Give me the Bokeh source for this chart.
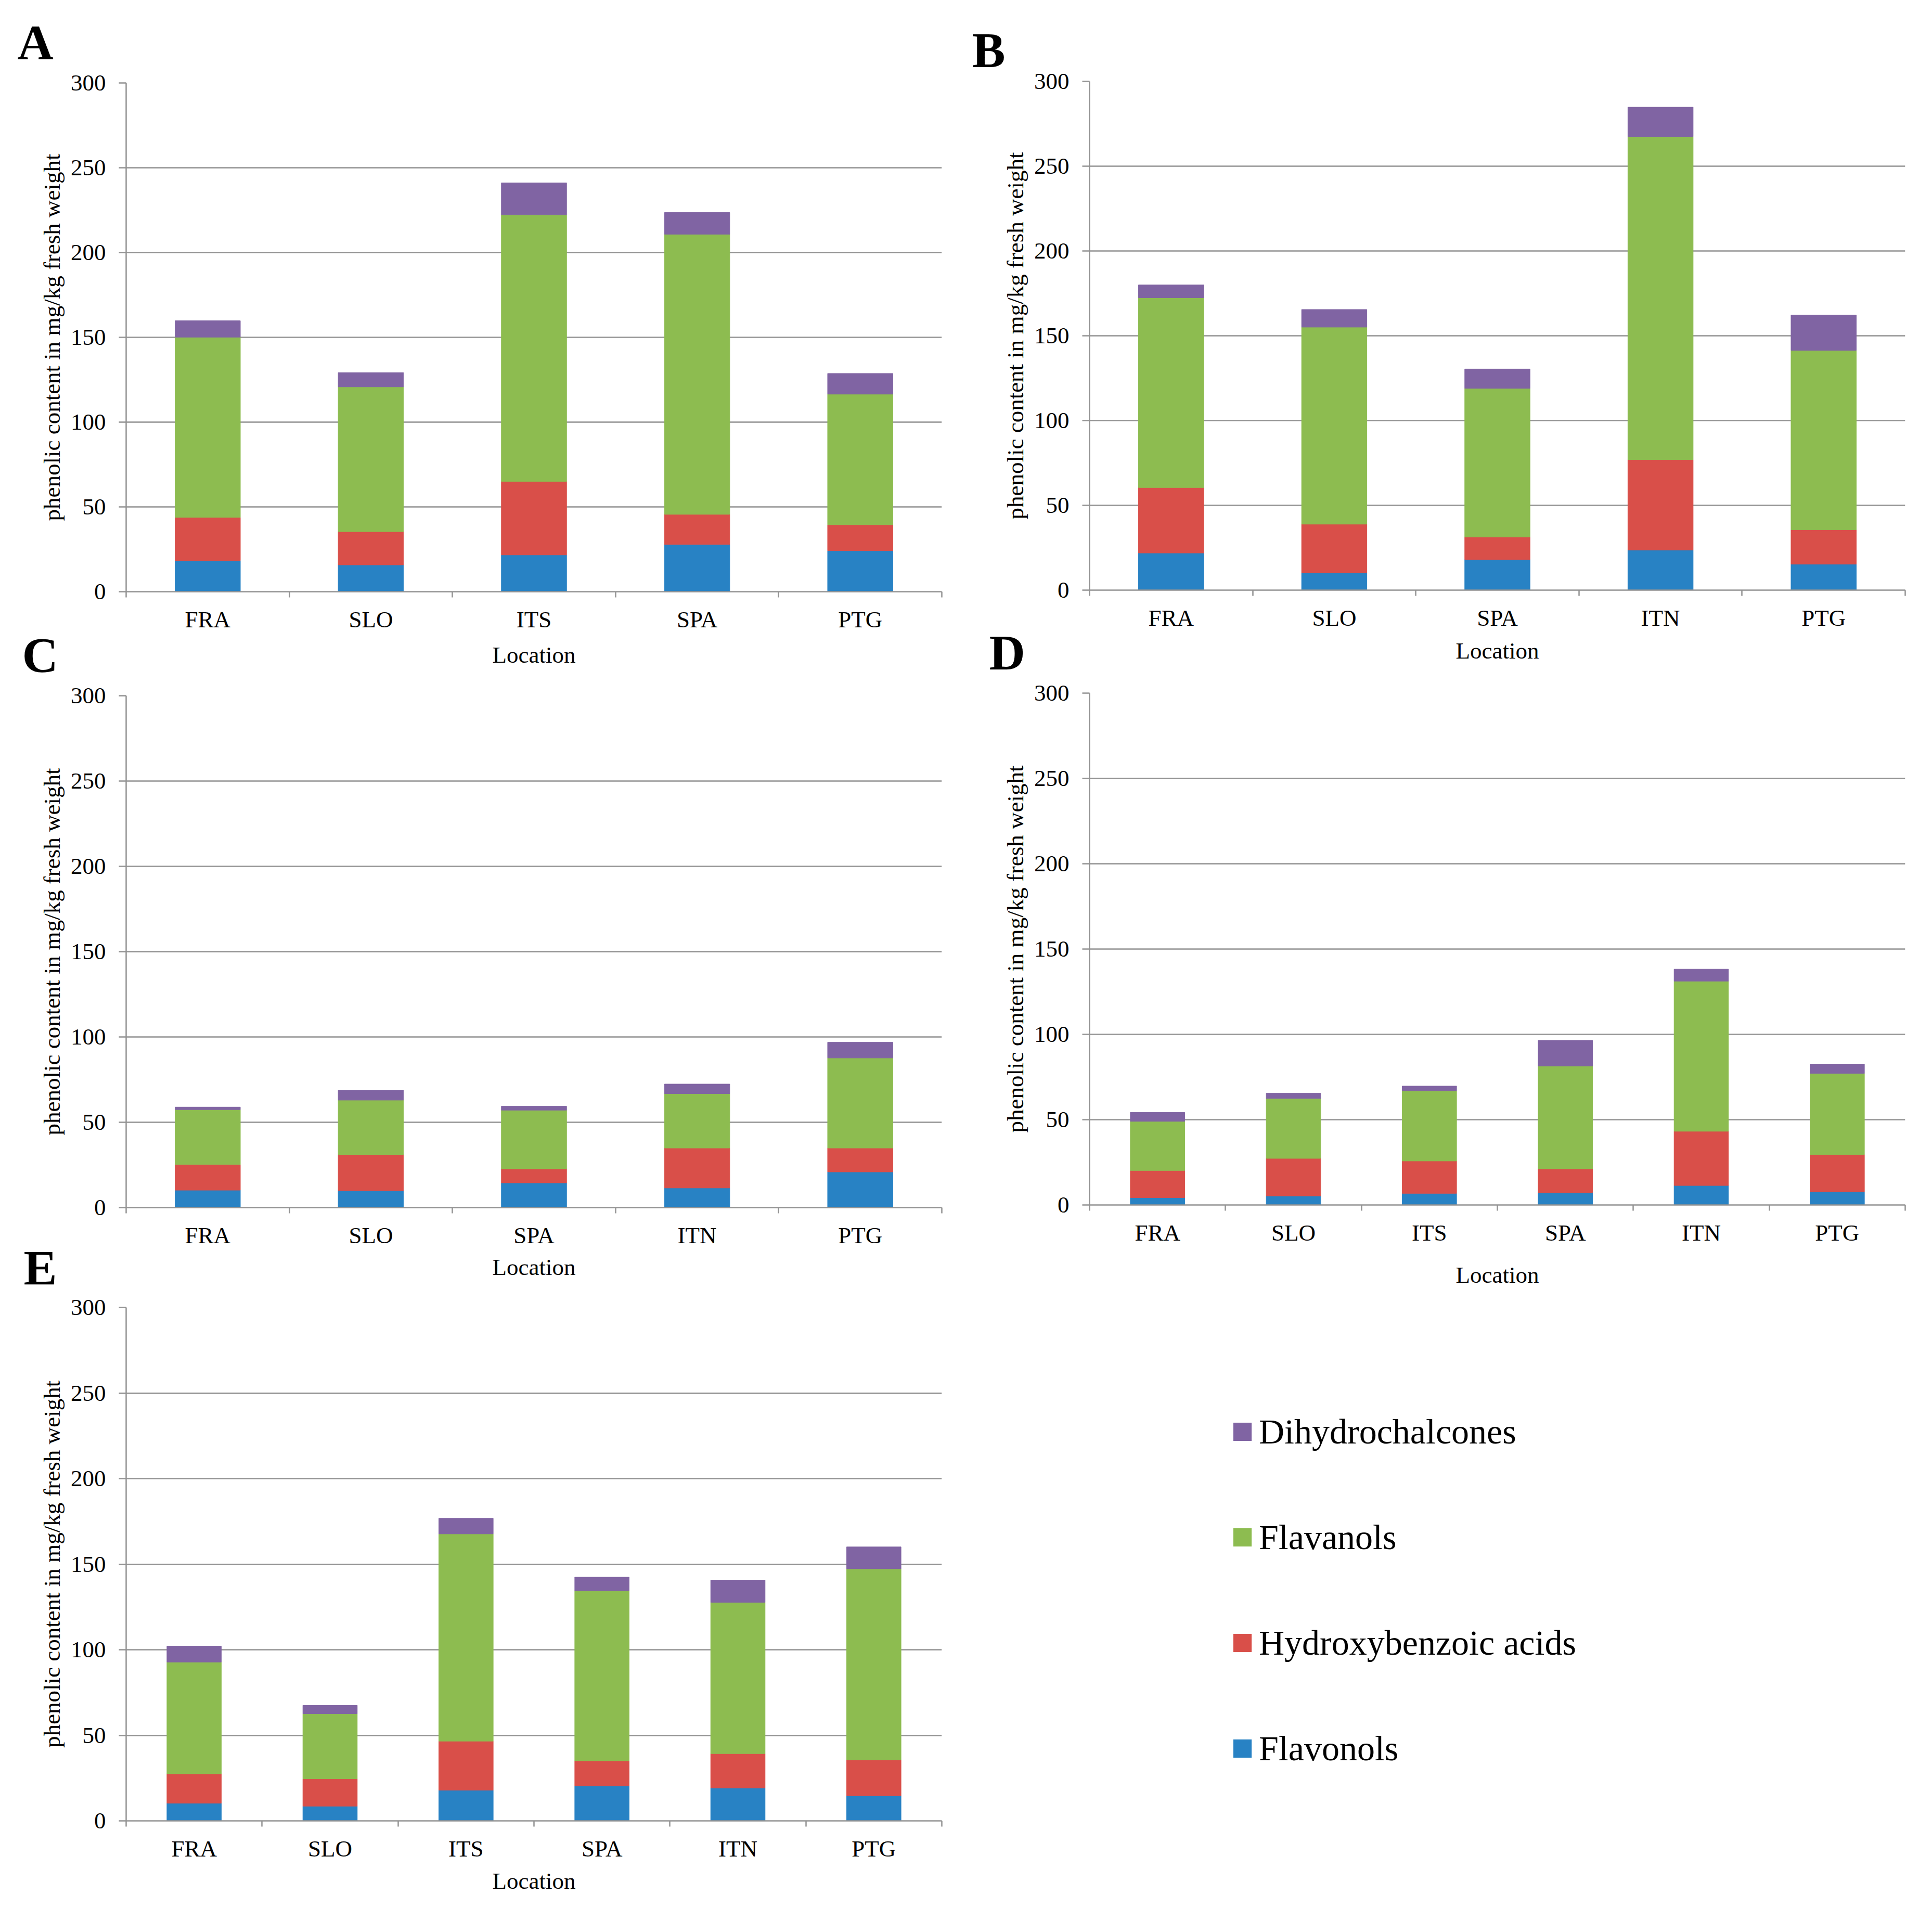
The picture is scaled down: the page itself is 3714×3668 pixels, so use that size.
from bokeh.plotting import figure
from bokeh.models import (Range1d, FixedTicker, LinearAxis, Legend, LegendItem,
                          ColumnDataSource)
from bokeh.layouts import column, row
from bokeh.embed import file_html
from bokeh.resources import INLINE

SERIES = ["Flavonols", "Hydroxybenzoic acids", "Flavanols", "Dihydrochalcones"]
COLORS = ["#2882C4", "#D94F49", "#8DBC50", "#8064A3"]
Y_TICKS = [0, 50, 100, 150, 200, 250, 300]
Y_LABEL = "phenolic content in mg/kg fresh weight"
X_LABEL = "Location"

# Panel A
locs_A = ["FRA", "SLO", "ITS", "SPA", "PTG"]
flavonols_A = [18.4, 15.8, 21.7, 27.8, 24.2]
hydroxy_A = [25.4, 19.6, 43.3, 17.8, 15.3]
flavanols_A = [106.3, 85.4, 157.3, 165.2, 77.0]
dihydro_A = [9.7, 8.4, 18.8, 12.8, 12.2]

# Panel B
locs_B = ["FRA", "SLO", "SPA", "ITN", "PTG"]
flavonols_B = [21.9, 10.2, 18.1, 23.6, 15.3]
hydroxy_B = [38.6, 28.7, 13.2, 53.4, 20.3]
flavanols_B = [111.9, 116.2, 87.7, 190.5, 105.8]
dihydro_B = [7.6, 10.4, 11.4, 17.3, 20.8]

# Panel C
locs_C = ["FRA", "SLO", "SPA", "ITN", "PTG"]
flavonols_C = [10.2, 9.9, 14.5, 11.5, 20.9]
hydroxy_C = [15.0, 21.2, 8.2, 23.4, 14.0]
flavanols_C = [32.2, 31.9, 34.4, 31.9, 52.8]
dihydro_C = [1.5, 5.8, 2.3, 5.6, 9.2]

# Panel D
locs_D = ["FRA", "SLO", "ITS", "SPA", "ITN", "PTG"]
flavonols_D = [4.3, 5.3, 6.8, 7.3, 11.4, 7.8]
hydroxy_D = [15.9, 22.0, 19.0, 13.9, 31.8, 21.8]
flavanols_D = [28.8, 35.1, 41.2, 60.2, 88.0, 47.5]
dihydro_D = [5.3, 3.1, 2.7, 15.1, 7.0, 5.5]

# Panel E
locs_E = ["FRA", "SLO", "ITS", "SPA", "ITN", "PTG"]
flavonols_E = [10.3, 8.6, 17.9, 20.4, 19.2, 14.7]
hydroxy_E = [17.2, 16.0, 28.7, 14.7, 20.1, 20.9]
flavanols_E = [65.3, 38.0, 121.1, 99.4, 88.4, 111.7]
dihydro_E = [9.3, 4.9, 9.1, 7.9, 13.0, 12.8]

FONT = "Liberation Serif"
GRAY = "#939393"


def make_panel(locs, series_vals, letter, letter_offset, letter_standoff,
               fw, fh, bl, br, bt, bb, xlab_standoff, top_margin=0):
    n = len(locs)
    centers = [i + 0.5 for i in range(n)]
    edges = list(range(n + 1))
    p = figure(x_range=Range1d(0, n), y_range=Range1d(0, 300),
               frame_width=fw, frame_height=fh,
               min_border_left=bl, min_border_right=br,
               min_border_top=bt, min_border_bottom=bb,
               x_axis_location=None, toolbar_location=None,
               output_backend="svg", background_fill_color="white",
               border_fill_color=None, outline_line_color=None,
               margin=(top_margin, 0, 0, 0))
    # panel letter as the figure title
    p.title.text = letter
    p.title.align = "left"
    p.title.offset = letter_offset
    p.title.standoff = letter_standoff
    p.title.text_font = FONT
    p.title.text_font_size = "96px"
    p.title.text_font_style = "bold"
    p.title.text_color = "black"

    data = {"x": centers, "loc": locs}
    for name, vals in zip(SERIES, series_vals):
        data[name] = vals
    src = ColumnDataSource(data)
    p.vbar_stack(SERIES, x="x", width=0.4, color=COLORS, source=src)

    # y axis
    yax = p.yaxis[0]
    yax.ticker = FixedTicker(ticks=Y_TICKS)
    yax.major_tick_out = 14
    yax.major_tick_in = 0
    yax.minor_tick_line_color = None
    yax.major_tick_line_color = GRAY
    yax.major_tick_line_width = 2.5
    yax.axis_line_color = GRAY
    yax.axis_line_width = 2.5
    yax.major_label_standoff = 25
    yax.major_label_text_font = FONT
    yax.major_label_text_font_size = "45px"
    yax.major_label_text_color = "black"
    yax.axis_label = Y_LABEL
    yax.axis_label_text_font = FONT
    yax.axis_label_text_font_size = "45px"
    yax.axis_label_text_font_style = "normal"
    yax.axis_label_text_color = "black"
    yax.axis_label_standoff = 8

    p.ygrid.ticker = FixedTicker(ticks=Y_TICKS)
    p.ygrid.grid_line_color = GRAY
    p.ygrid.grid_line_width = 2.5
    p.xgrid.grid_line_color = None

    # x axis: names at bar centres, separator ticks between categories
    xax = LinearAxis(ticker=FixedTicker(ticks=centers, minor_ticks=edges),
                     major_label_overrides={c: l for c, l in zip(centers, locs)},
                     axis_line_color=GRAY, axis_line_width=2.5,
                     major_tick_line_color=None, major_tick_out=0, major_tick_in=0,
                     minor_tick_line_color=GRAY, minor_tick_line_width=2.5,
                     minor_tick_out=11, minor_tick_in=0,
                     major_label_standoff=17,
                     major_label_text_font=FONT, major_label_text_font_size="45px",
                     major_label_text_color="black",
                     axis_label=X_LABEL, axis_label_text_font=FONT,
                     axis_label_text_font_size="45px",
                     axis_label_text_font_style="normal",
                     axis_label_text_color="black",
                     axis_label_standoff=xlab_standoff)
    p.add_layout(xax, "below")
    return p


pA = make_panel(locs_A, [flavonols_A, hydroxy_A, flavanols_A, dihydro_A],
                "A", -209, 50, 1568, 978, 242, 42, 150, 156, 15)
pC = make_panel(locs_C, [flavonols_C, hydroxy_C, flavanols_C, dihydro_C],
                "C", -200, 50, 1568, 984, 242, 42, 120, 151, 8, top_margin=-115)
pE = make_panel(locs_E, [flavonols_E, hydroxy_E, flavanols_E, dihydro_E],
                "E", -197, 46, 1568, 987, 242, 42, 112, 150, 9, top_margin=-114)
pB = make_panel(locs_B, [flavonols_B, hydroxy_B, flavanols_B, dihydro_B],
                "B", -226, 14, 1568, 978, 242, 36, 156, 155, 10)
pD = make_panel(locs_D, [flavonols_D, hydroxy_D, flavanols_D, dihydro_D],
                "D", -193, 50, 1568, 984, 242, 36, 117, 184, 28, top_margin=-116)

# legend panel (frame aligned with B and D)
pL = figure(frame_width=1568, frame_height=1140, x_range=Range1d(0, 1), y_range=Range1d(0, 1),
            x_axis_location=None, y_axis_location=None, toolbar_location=None,
            output_backend="svg", min_border_left=242, min_border_top=0,
            min_border_right=36, min_border_bottom=0, outline_line_color=None,
            background_fill_color=None, border_fill_color=None)
pL.xgrid.grid_line_color = None
pL.ygrid.grid_line_color = None
# invisible legend proxies (entirely outside the visible range)
rends = [pL.vbar(x=[0.5], bottom=[-3], top=[-2], width=0.4, fill_color=c, line_color=None)
         for c in COLORS]
items = [LegendItem(label=s, renderers=[r]) for s, r in zip(SERIES, rends)][::-1]
legend = Legend(items=items, location=(272, 239), margin=0, padding=0,
                border_line_color=None, background_fill_alpha=0,
                label_text_font=FONT, label_text_font_size="68px",
                label_text_color="black", label_height=80,
                glyph_width=44, glyph_height=44, label_standoff=10, spacing=123)
pL.add_layout(legend)

layout = row(column(pA, pC, pE), column(pB, pD, pL))
open("out.html", "w").write(file_html(layout, INLINE))
